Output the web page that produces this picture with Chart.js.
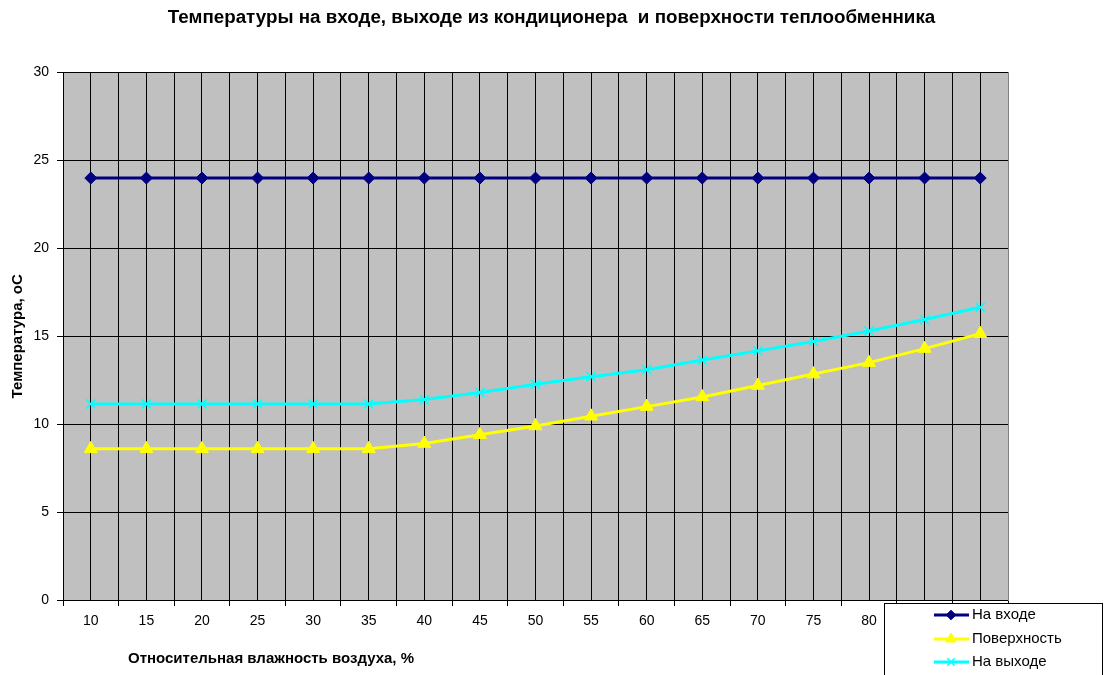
<!DOCTYPE html>
<html>
<head>
<meta charset="utf-8">
<script src="https://cdn.jsdelivr.net/npm/chart.js@4/dist/chart.umd.min.js"></script>
<style>
  html, body { margin: 0; padding: 0; background: #ffffff; }
  #wrap { width: 1111px; height: 675px; position: relative; }
</style>
</head>
<body>
<div id="wrap"><canvas id="c" width="1111" height="675"></canvas></div>
<script>
const categories = ['10','15','20','25','30','35','40','45','50','55','60','65','70','75','80','85','90'];
const inletTemp = [24,24,24,24,24,24,24,24,24,24,24,24,24,24,24,24,24];
const surfaceTemp = [8.6,8.6,8.6,8.6,8.6,8.6,8.9,9.4,9.9,10.45,11.0,11.55,12.2,12.85,13.5,14.3,15.15];
const outletTemp = [11.15,11.15,11.15,11.15,11.15,11.15,11.4,11.8,12.27,12.7,13.1,13.65,14.17,14.7,15.3,15.95,16.65];
const seriesNames = ['На входе','Поверхность','На выходе'];
const chartTitle = 'Температуры на входе, выходе из кондиционера  и поверхности теплообменника';
const xTitle = 'Относительная влажность воздуха, %';
const yTitle = 'Температура, оС';

const FONT = '"Liberation Sans", Arial, sans-serif';

const styles = [
  {color:'#000080', pointStyle:'rectRot', radius:6, bw:1},
  {color:'#FFFF00', pointStyle:'triangle', radius:7.5, bw:1},
  {color:'#00FFFF', pointStyle:'crossRot', radius:6.5, bw:1.5}
];
const seriesData = [inletTemp, surfaceTemp, outletTemp];

const datasets = seriesData.map((d, i) => ({
  label: seriesNames[i],
  data: d,
  borderColor: styles[i].color,
  backgroundColor: styles[i].color,
  borderWidth: 3,
  pointStyle: styles[i].pointStyle,
  pointRadius: styles[i].radius,
  pointBorderWidth: styles[i].bw,
  pointBorderColor: styles[i].color,
  pointBackgroundColor: styles[i].color,
  tension: 0,
  fill: false
}));

const bgPlugin = {
  id: 'bg',
  beforeDraw(chart) {
    const {ctx, chartArea: a} = chart;
    ctx.save();
    ctx.fillStyle = '#ffffff';
    ctx.fillRect(0, 0, chart.width, chart.height);
    ctx.fillStyle = '#C0C0C0';
    ctx.fillRect(a.left, a.top, a.right - a.left, a.bottom - a.top);
    ctx.restore();
  }
};

const extrasPlugin = {
  id: 'extras',
  afterDraw(chart) {
    const {ctx} = chart;
    ctx.save();
    // x axis title
    ctx.fillStyle = '#000';
    ctx.font = 'bold 15px ' + FONT;
    ctx.textAlign = 'center';
    ctx.textBaseline = 'middle';
    ctx.fillText(xTitle, 271, 659);
    // legend box
    const lx = 884.5, ly = 603.5, lw = 218, lh = 80;
    ctx.fillStyle = '#ffffff';
    ctx.fillRect(lx, ly, lw, lh);
    ctx.strokeStyle = '#000';
    ctx.lineWidth = 1;
    ctx.strokeRect(lx, ly, lw, lh);
    const rows = [615, 639, 662];
    chart.data.datasets.forEach((ds, i) => {
      const y = rows[i];
      ctx.strokeStyle = ds.borderColor;
      ctx.lineWidth = 3;
      ctx.beginPath();
      ctx.moveTo(934, y);
      ctx.lineTo(969, y);
      ctx.stroke();
      ctx.fillStyle = ds.pointBackgroundColor;
      ctx.strokeStyle = ds.pointBorderColor;
      ctx.lineWidth = ds.pointBorderWidth;
      Chart.helpers.drawPoint(ctx, {
        pointStyle: ds.pointStyle,
        radius: ds.pointRadius * 0.8,
        borderWidth: ds.pointBorderWidth,
        rotation: 0
      }, 951, y);
      ctx.fillStyle = '#000';
      ctx.font = '15px ' + FONT;
      ctx.textAlign = 'left';
      ctx.textBaseline = 'middle';
      ctx.fillText(ds.label, 972, y);
    });
    ctx.restore();
  }
};

new Chart(document.getElementById('c'), {
  type: 'line',
  data: { labels: categories, datasets },
  options: {
    responsive: false,
    animation: false,
    devicePixelRatio: 1,
    layout: { padding: { left: 0, right: 8, top: 0, bottom: 0 } },
    plugins: {
      legend: { display: false },
      tooltip: { enabled: false },
      title: {
        display: true,
        text: chartTitle,
        color: '#000',
        font: { family: FONT, size: 18.8, weight: 'bold', lineHeight: 1.2 },
        padding: { top: 7, bottom: 43 }
      }
    },
    scales: {
      x: {
        type: 'category',
        position: 'bottom',
        offset: true,
        grid: { offset: true, color: '#000', lineWidth: 1, tickLength: 6, drawTicks: true },
        border: { display: true, color: '#000', width: 1 },
        ticks: { color: '#000', font: { family: FONT, size: 14 }, padding: 7, maxRotation: 0, autoSkip: false },
        afterFit(s) { s.height = 75; }
      },
      x2: {
        type: 'category',
        position: 'bottom',
        offset: true,
        labels: categories,
        grid: { offset: false, color: '#000', lineWidth: 1, drawTicks: false },
        border: { display: false },
        ticks: { display: false },
        afterFit(s) { s.height = 0; }
      },
      y: {
        type: 'linear',
        position: 'left',
        min: 0, max: 30,
        ticks: { stepSize: 5, color: '#000', font: { family: FONT, size: 14 }, padding: 8 },
        grid: { color: '#000', lineWidth: 1, tickLength: 6 },
        border: { display: true, color: '#000', width: 1 },
        title: {
          display: true, text: yTitle, color: '#000',
          font: { family: FONT, size: 15, weight: 'bold' },
          padding: { top: 9, bottom: 0 }
        },
        afterFit(s) { s.width = 63; }
      },
      y2: {
        type: 'linear',
        position: 'right',
        min: 0, max: 30,
        grid: { drawOnChartArea: false, drawTicks: false },
        border: { display: true, color: '#808080', width: 1 },
        ticks: { display: false },
        afterFit(s) { s.width = 95; }
      }
    }
  },
  plugins: [bgPlugin, extrasPlugin]
});
</script>
</body>
</html>
